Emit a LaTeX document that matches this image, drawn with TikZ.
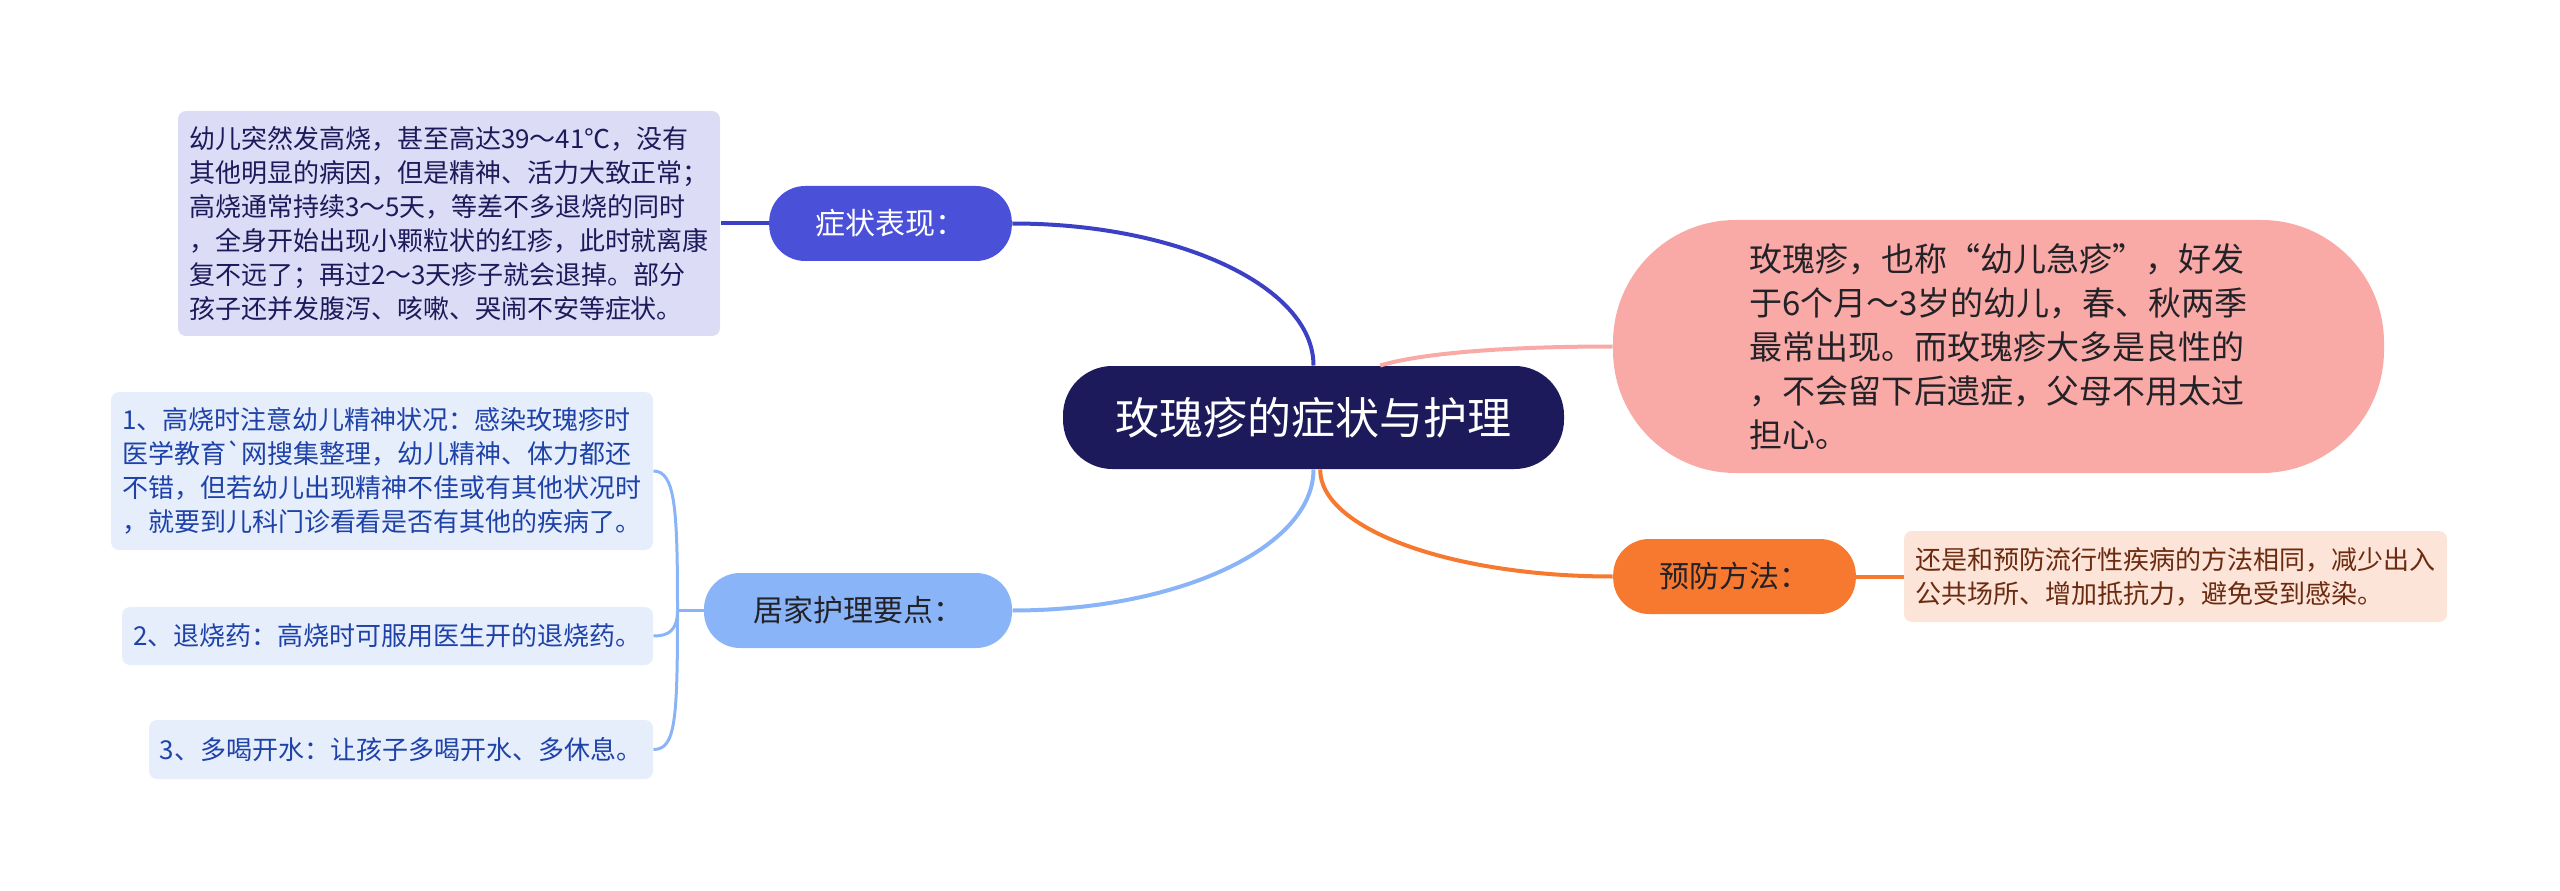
\documentclass[tikz,border=0pt]{standalone}
\usepackage{fontspec}
\newfontfamily\cjk{Noto Sans CJK SC}

\definecolor{rootfill}{RGB}{28,26,90}
\definecolor{zzfill}{RGB}{74,80,216}
\definecolor{zzline}{RGB}{60,64,196}
\definecolor{zznote}{RGB}{220,220,246}
\definecolor{jjfill}{RGB}{138,180,248}
\definecolor{jjnote}{RGB}{230,238,252}
\definecolor{jjtext}{RGB}{30,66,168}
\definecolor{pinkfill}{RGB}{250,170,166}
\definecolor{yffill}{RGB}{247,121,47}
\definecolor{yfnote}{RGB}{253,228,216}
\definecolor{yftext}{RGB}{107,43,16}
\definecolor{darktext}{RGB}{34,34,40}

\tikzset{every picture/.style={line width=0.75pt}}
\tikzset{
  rootnode/.style={fill=rootfill, text=white, rounded corners=37pt, inner sep=0pt,
    minimum width=375.75pt, minimum height=77.25pt, font=\cjk\fontsize{33}{40}\selectfont},
  topic/.style={rounded corners=27pt, inner sep=0pt, minimum width=182pt, minimum height=56.25pt,
    font=\cjk\fontsize{22.5}{28}\selectfont},
  note/.style={rounded corners=6pt, inner sep=0pt, align=left,
    font=\cjk\fontsize{19.5}{25.5}\selectfont},
  link/.style={line width=3pt},
}

\begin{document}
\begin{tikzpicture}[x=0.75pt,y=0.75pt,yscale=-1,xscale=1]
        \useasboundingbox (0,0) rectangle (2560,891);

        %Shape: Root
        \node [rootnode] (root) at (1313.5,417.5) {玫瑰疹的症状与护理};

        %Shape: Topics
        \node [topic, fill=zzfill, text=white] (zz) at (890.5,223.5) {症状表现：};
        \node [topic, fill=jjfill, text=darktext, minimum width=231pt] (jj) at (858,610.5) {居家护理要点：};
        \node [topic, fill=yffill, text=darktext] (yf) at (1734.5,576.5) {预防方法：};
        \node [fill=pinkfill, text=darktext, rounded corners=92pt, inner sep=0pt, align=left,
          minimum width=578.25pt, minimum height=189.75pt, font=\cjk\fontsize{24.75}{33}\selectfont]
          (intro) at (1998.5,346.5) {玫瑰疹，也称“幼儿急疹”，好发\\
于6个月～3岁的幼儿，春、秋两季\\
最常出现。而玫瑰疹大多是良性的\\
，不会留下后遗症，父母不用太过\\
担心。};

        %Shape: Notes
        \node [note, fill=zznote, text=rootfill, minimum width=406.5pt, minimum height=168.75pt] (zzbox) at (449,223.5) {幼儿突然发高烧，甚至高达39～41℃，没有\\
其他明显的病因，但是精神、活力大致正常；\\
高烧通常持续3～5天，等差不多退烧的同时\\
，全身开始出现小颗粒状的红疹，此时就离康\\
复不远了；再过2～3天疹子就会退掉。部分\\
孩子还并发腹泻、咳嗽、哭闹不安等症状。};
        \node [note, fill=jjnote, text=jjtext, minimum width=406.5pt, minimum height=118.5pt] (j1) at (382,471) {1、高烧时注意幼儿精神状况：感染玫瑰疹时\\
医学教育`网搜集整理，幼儿精神、体力都还\\
不错，但若幼儿出现精神不佳或有其他状况时\\
，就要到儿科门诊看看是否有其他的疾病了。};
        \node [note, fill=jjnote, text=jjtext, minimum width=398.25pt, minimum height=43.5pt] (j2) at (387.5,636) {2、退烧药：高烧时可服用医生开的退烧药。};
        \node [note, fill=jjnote, text=jjtext, minimum width=378pt, minimum height=44.25pt] (j3) at (401,749.5) {3、多喝开水：让孩子多喝开水、多休息。};
        \node [note, fill=yfnote, text=yftext, minimum width=407.25pt, minimum height=68.25pt] (yfbox) at (2175.5,576.5) {还是和预防流行性疾病的方法相同，减少出入\\
公共场所、增加抵抗力，避免受到感染。};

        %Curves: Root to topics
        \draw [link, zzline] (root.north) .. controls +(0,-79) and +(166,0) .. (zz.east) ;
        \draw [link, jjfill] (root.south) .. controls +(0,78) and +(166,0) .. (jj.east) ;
        \draw [link, yffill] ([xshift=5pt]root.south) .. controls +(0,60) and +(-160,0) .. (yf.west) ;
        \draw [link, pinkfill] ([xshift=50pt]root.north) .. controls +(40,-12) and +(-110,0) .. (intro.west) ;

        %Straight Lines
        \draw [link, zzline] (zz.west) -- (zzbox.east) ;
        \draw [link, yffill] (yf.east) -- (yfbox.west) ;

        %Bracket
        \draw [jjfill, line width=2.25pt] (jj.west) -- ++(-26,0) coordinate (br) ;
        \draw [jjfill, line width=2.25pt] (br) .. controls +(0,-100) and +(22,0) .. (j1.east) ;
        \draw [jjfill, line width=2.25pt] (br) .. controls +(0,20) and +(15,0) .. (j2.east) ;
        \draw [jjfill, line width=2.25pt] (br) .. controls +(0,110) and +(22,0) .. (j3.east) ;

\end{tikzpicture}
\end{document}
